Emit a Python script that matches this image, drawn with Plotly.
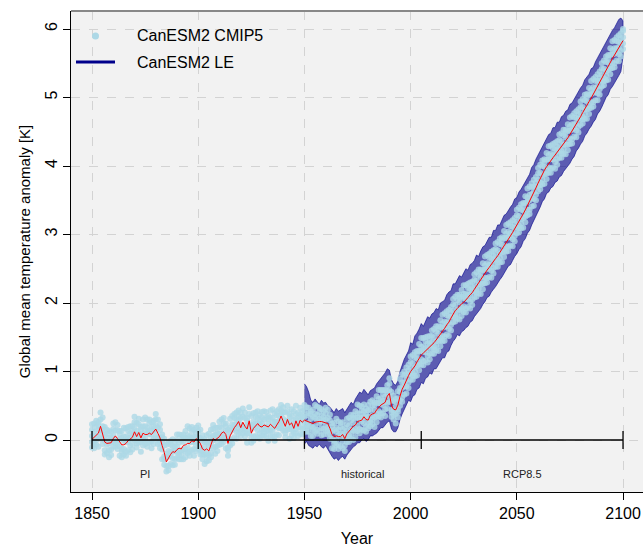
import plotly.graph_objects as go

years = list(range(1850, 2101))
le_years = list(range(1950, 2101))

# ensemble mean (red line)
ens_mean = [
    0.01, 0.04, 0.08, 0.10, 0.20, 0.08, -0.03, -0.05, -0.05, -0.04,
    0.02, 0.06, 0.02, -0.03, -0.07, -0.07, -0.05, -0.01, 0.02, 0.04,
    0.12, 0.05, 0.11, 0.03, 0.10, 0.08, 0.08, 0.10, 0.08, 0.12,
    0.16, 0.10, 0.03, -0.08, -0.18, -0.32, -0.26, -0.21, -0.17, -0.18,
    -0.14, -0.12, -0.13, -0.08, -0.07, -0.05, -0.05, -0.01, -0.03, 0.02,
    -0.01, -0.05, -0.13, -0.15, -0.13, -0.16, -0.07, 0.02, 0.00, 0.02,
    0.05, 0.10, 0.12, 0.08, -0.05, 0.06, 0.13, 0.18, 0.22, 0.27,
    0.18, 0.26, 0.20, 0.16, 0.28, 0.10, 0.17, 0.20, 0.24, 0.20,
    0.19, 0.22, 0.21, 0.19, 0.23, 0.20, 0.17, 0.22, 0.27, 0.35,
    0.26, 0.20, 0.30, 0.22, 0.25, 0.17, 0.28, 0.20, 0.29, 0.26,
    0.29, 0.28, 0.27, 0.26, 0.24, 0.26, 0.27, 0.27, 0.27, 0.26,
    0.25, 0.24, 0.17, 0.08, 0.05, 0.06, 0.05, 0.05, 0.08, 0.02,
    0.09, 0.13, 0.17, 0.20, 0.22, 0.27, 0.28, 0.29, 0.34, 0.30,
    0.29, 0.36, 0.38, 0.39, 0.44, 0.48, 0.51, 0.53, 0.55, 0.64,
    0.68, 0.50, 0.45, 0.44, 0.51, 0.64, 0.74, 0.80, 0.88, 0.94,
    1.00, 1.04, 1.08, 1.14, 1.20, 1.24, 1.27, 1.30, 1.33, 1.36,
    1.38, 1.42, 1.46, 1.50, 1.55, 1.58, 1.63, 1.68, 1.72, 1.78,
    1.84, 1.89, 1.92, 1.96, 1.99, 2.01, 2.04, 2.08, 2.12, 2.15,
    2.20, 2.25, 2.29, 2.33, 2.38, 2.43, 2.48, 2.52, 2.57, 2.61,
    2.65, 2.69, 2.74, 2.80, 2.85, 2.89, 2.94, 2.98, 3.03, 3.08,
    3.14, 3.19, 3.24, 3.30, 3.36, 3.42, 3.48, 3.55, 3.62, 3.68,
    3.75, 3.82, 3.88, 3.94, 3.99, 4.04, 4.08, 4.12, 4.16, 4.20,
    4.24, 4.28, 4.33, 4.37, 4.41, 4.46, 4.51, 4.57, 4.62, 4.67,
    4.72, 4.78, 4.84, 4.89, 4.94, 4.99, 5.05, 5.10, 5.16, 5.22,
    5.28, 5.34, 5.40, 5.46, 5.52, 5.57, 5.62, 5.68, 5.73, 5.78,
    5.83,
]

# CanESM2 large ensemble envelope (1950-2100)
le_upper = [
    0.82, 0.78, 0.70, 0.58, 0.55, 0.60, 0.56, 0.52, 0.58, 0.54,
    0.55, 0.50, 0.48, 0.44, 0.40, 0.46, 0.42, 0.44, 0.46, 0.40,
    0.46, 0.50, 0.55, 0.52, 0.60, 0.66, 0.70, 0.68, 0.74, 0.70,
    0.66, 0.72, 0.74, 0.76, 0.82, 0.86, 0.90, 0.95, 0.98, 1.04,
    1.02, 0.88, 0.82, 0.80, 0.86, 1.00, 1.10, 1.18, 1.24, 1.30,
    1.42, 1.40, 1.52, 1.56, 1.62, 1.70, 1.66, 1.72, 1.80, 1.78,
    1.84, 1.86, 1.92, 1.90, 2.00, 2.02, 2.04, 2.12, 2.16, 2.18,
    2.28, 2.28, 2.34, 2.40, 2.38, 2.44, 2.50, 2.48, 2.56, 2.58,
    2.62, 2.70, 2.68, 2.76, 2.82, 2.84, 2.90, 2.96, 2.96, 3.06,
    3.06, 3.14, 3.14, 3.22, 3.28, 3.30, 3.36, 3.40, 3.44, 3.52,
    3.54, 3.62, 3.66, 3.72, 3.78, 3.84, 3.88, 3.98, 4.02, 4.10,
    4.16, 4.22, 4.30, 4.34, 4.40, 4.46, 4.48, 4.56, 4.56, 4.64,
    4.64, 4.72, 4.74, 4.80, 4.82, 4.90, 4.92, 4.98, 5.04, 5.08,
    5.14, 5.18, 5.26, 5.30, 5.34, 5.42, 5.44, 5.52, 5.58, 5.62,
    5.70, 5.74, 5.82, 5.86, 5.92, 5.98, 6.02, 6.08, 6.14, 6.16,
    6.12,
]
le_lower = [
    -0.06, -0.02, -0.08, -0.10, -0.12, -0.08, -0.10, -0.06, -0.10, -0.12,
    -0.08, -0.12, -0.18, -0.24, -0.28, -0.26, -0.30, -0.26, -0.24, -0.28,
    -0.22, -0.18, -0.14, -0.10, -0.08, -0.04, -0.04, 0.00, 0.02, -0.02,
    0.00, 0.06, 0.06, 0.08, 0.10, 0.14, 0.18, 0.18, 0.22, 0.26,
    0.28, 0.16, 0.12, 0.12, 0.18, 0.30, 0.38, 0.44, 0.52, 0.58,
    0.56, 0.64, 0.66, 0.74, 0.76, 0.84, 0.82, 0.90, 0.92, 0.98,
    0.96, 1.04, 1.04, 1.10, 1.14, 1.20, 1.20, 1.28, 1.30, 1.38,
    1.44, 1.48, 1.54, 1.52, 1.58, 1.60, 1.64, 1.66, 1.72, 1.74,
    1.80, 1.84, 1.88, 1.92, 1.98, 2.02, 2.08, 2.10, 2.16, 2.20,
    2.24, 2.28, 2.34, 2.38, 2.44, 2.48, 2.54, 2.56, 2.62, 2.68,
    2.72, 2.78, 2.82, 2.90, 2.94, 3.02, 3.06, 3.14, 3.20, 3.28,
    3.34, 3.40, 3.48, 3.52, 3.60, 3.62, 3.68, 3.70, 3.76, 3.78,
    3.84, 3.86, 3.92, 3.96, 4.00, 4.04, 4.10, 4.14, 4.22, 4.26,
    4.32, 4.36, 4.44, 4.48, 4.54, 4.58, 4.64, 4.68, 4.76, 4.80,
    4.86, 4.92, 5.00, 5.04, 5.12, 5.16, 5.22, 5.26, 5.32, 5.38,
    5.60,
]

# CanESM2 CMIP5 members (1850-2100)
cmip5_m1 = [
    0.15, -0.02, 0.28, 0.15, 0.10, 0.20, 0.19, -0.07, 0.03, 0.12,
    0.16, 0.00, 0.22, 0.02, -0.17, 0.05, 0.17, -0.03, 0.10, 0.20,
    0.26, -0.01, 0.31, 0.08, 0.00, 0.20, 0.30, 0.08, 0.16, 0.28,
    0.30, 0.04, 0.23, -0.03, -0.28, -0.20, -0.04, -0.23, -0.09, -0.02,
    0.00, -0.18, 0.07, -0.03, -0.17, 0.07, 0.17, -0.03, 0.05, 0.18,
    0.13, -0.11, 0.07, -0.10, -0.23, -0.04, 0.15, 0.00, 0.08, 0.18,
    0.19, 0.04, 0.32, 0.13, -0.15, 0.18, 0.35, 0.16, 0.30, 0.43,
    0.32, 0.20, 0.40, 0.21, 0.18, 0.22, 0.39, 0.18, 0.32, 0.36,
    0.33, 0.16, 0.41, 0.24, 0.13, 0.32, 0.39, 0.20, 0.35, 0.51,
    0.40, 0.14, 0.50, 0.27, 0.15, 0.29, 0.50, 0.18, 0.37, 0.42,
    0.43, 0.22, 0.47, 0.31, 0.14, 0.38, 0.49, 0.25, 0.35, 0.42,
    0.39, 0.18, 0.37, 0.13, -0.05, 0.18, 0.27, 0.03, 0.16, 0.18,
    0.23, 0.07, 0.37, 0.25, 0.12, 0.39, 0.50, 0.27, 0.42, 0.46,
    0.43, 0.30, 0.58, 0.44, 0.34, 0.60, 0.73, 0.51, 0.63, 0.80,
    0.82, 0.44, 0.65, 0.49, 0.41, 0.76, 0.96, 0.78, 0.96, 1.10,
    1.14, 0.98, 1.28, 1.19, 1.10, 1.36, 1.49, 1.28, 1.41, 1.52,
    1.52, 1.36, 1.66, 1.55, 1.45, 1.70, 1.85, 1.66, 1.80, 1.94,
    1.98, 1.83, 2.12, 2.01, 1.89, 2.13, 2.26, 2.06, 2.20, 2.31,
    2.34, 2.19, 2.49, 2.38, 2.28, 2.55, 2.70, 2.50, 2.65, 2.77,
    2.79, 2.63, 2.94, 2.85, 2.75, 3.01, 3.16, 2.96, 3.11, 3.24,
    3.28, 3.13, 3.44, 3.35, 3.26, 3.54, 3.70, 3.53, 3.70, 3.84,
    3.89, 3.76, 4.08, 3.99, 3.89, 4.16, 4.30, 4.10, 4.24, 4.36,
    4.38, 4.22, 4.53, 4.42, 4.31, 4.58, 4.73, 4.55, 4.70, 4.83,
    4.86, 4.72, 5.04, 4.94, 4.84, 5.11, 5.27, 5.08, 5.24, 5.38,
    5.42, 5.28, 5.60, 5.51, 5.42, 5.69, 5.84, 5.66, 5.81, 5.94,
    5.97,
]
cmip5_m2 = [
    -0.11, 0.12, -0.07, -0.10, 0.30, 0.02, -0.21, 0.09, -0.15, -0.02,
    -0.10, 0.14, -0.13, -0.23, 0.03, -0.13, -0.23, 0.13, -0.08, 0.06,
    0.00, 0.13, -0.04, -0.17, 0.20, 0.02, -0.10, 0.24, -0.02, 0.14,
    0.04, 0.18, -0.12, -0.28, -0.08, -0.38, -0.44, -0.07, -0.27, -0.16,
    -0.26, -0.04, -0.28, -0.28, 0.03, -0.11, -0.23, 0.13, -0.13, 0.04,
    -0.13, 0.03, -0.28, -0.35, -0.03, -0.22, -0.25, 0.16, -0.10, 0.04,
    -0.07, 0.18, -0.03, -0.12, 0.05, 0.00, -0.05, 0.32, 0.12, 0.29,
    0.06, 0.34, 0.05, -0.04, 0.38, 0.04, -0.01, 0.34, 0.14, 0.22,
    0.07, 0.30, 0.06, -0.01, 0.33, 0.14, -0.01, 0.36, 0.17, 0.37,
    0.14, 0.28, 0.15, 0.02, 0.35, 0.11, 0.10, 0.34, 0.19, 0.28,
    0.17, 0.36, 0.12, 0.06, 0.34, 0.20, 0.09, 0.41, 0.17, 0.28,
    0.13, 0.32, 0.02, -0.12, 0.15, 0.00, -0.13, 0.19, -0.02, 0.04,
    -0.03, 0.21, 0.02, 0.00, 0.32, 0.21, 0.10, 0.43, 0.24, 0.32,
    0.17, 0.44, 0.23, 0.19, 0.54, 0.42, 0.33, 0.67, 0.45, 0.66,
    0.56, 0.58, 0.30, 0.24, 0.61, 0.58, 0.56, 0.94, 0.78, 0.96,
    0.88, 1.12, 0.93, 0.94, 1.30, 1.18, 1.09, 1.44, 1.23, 1.38,
    1.26, 1.50, 1.31, 1.30, 1.65, 1.52, 1.45, 1.82, 1.62, 1.80,
    1.72, 1.97, 1.77, 1.76, 2.09, 1.95, 1.86, 2.22, 2.02, 2.17,
    2.08, 2.33, 2.14, 2.13, 2.48, 2.37, 2.30, 2.66, 2.47, 2.63,
    2.53, 2.77, 2.59, 2.60, 2.95, 2.83, 2.76, 3.12, 2.93, 3.10,
    3.02, 3.27, 3.09, 3.10, 3.46, 3.36, 3.30, 3.69, 3.52, 3.70,
    3.63, 3.90, 3.73, 3.74, 4.09, 3.98, 3.90, 4.26, 4.06, 4.22,
    4.12, 4.36, 4.18, 4.17, 4.51, 4.40, 4.33, 4.71, 4.52, 4.69,
    4.60, 4.86, 4.69, 4.69, 5.04, 4.93, 4.87, 5.24, 5.06, 5.24,
    5.16, 5.42, 5.25, 5.26, 5.62, 5.51, 5.44, 5.82, 5.63, 5.80,
    5.71,
]
cmip5_m3 = [
    0.06, 0.24, 0.00, 0.22, 0.02, 0.33, -0.01, -0.19, 0.13, -0.14,
    0.07, 0.26, -0.06, 0.09, -0.25, 0.18, -0.03, -0.15, 0.20, -0.06,
    0.17, 0.25, 0.03, 0.15, -0.08, 0.33, 0.10, -0.04, 0.26, 0.02,
    0.21, 0.30, -0.05, 0.04, -0.36, -0.07, -0.24, -0.35, 0.01, -0.28,
    -0.09, 0.08, -0.21, 0.04, -0.25, 0.20, -0.03, -0.15, 0.15, -0.08,
    0.04, 0.15, -0.21, -0.03, -0.31, 0.09, -0.05, -0.12, 0.18, -0.08,
    0.10, 0.30, 0.04, 0.20, -0.23, 0.31, 0.15, 0.04, 0.40, 0.17,
    0.23, 0.46, 0.12, 0.28, 0.10, 0.35, 0.19, 0.06, 0.42, 0.10,
    0.24, 0.42, 0.13, 0.31, 0.05, 0.45, 0.19, 0.08, 0.45, 0.25,
    0.31, 0.40, 0.22, 0.34, 0.07, 0.42, 0.30, 0.06, 0.47, 0.16,
    0.34, 0.48, 0.19, 0.38, 0.06, 0.51, 0.29, 0.13, 0.45, 0.16,
    0.30, 0.44, 0.09, 0.20, -0.13, 0.31, 0.07, -0.09, 0.26, -0.08,
    0.14, 0.33, 0.09, 0.32, 0.04, 0.52, 0.30, 0.15, 0.52, 0.20,
    0.34, 0.56, 0.30, 0.51, 0.26, 0.73, 0.53, 0.39, 0.73, 0.54,
    0.73, 0.70, 0.37, 0.56, 0.33, 0.89, 0.76, 0.66, 1.06, 0.84,
    1.05, 1.24, 1.00, 1.26, 1.02, 1.49, 1.29, 1.16, 1.51, 1.26,
    1.43, 1.62, 1.38, 1.62, 1.37, 1.83, 1.65, 1.54, 1.90, 1.68,
    1.89, 2.09, 1.84, 2.08, 1.81, 2.26, 2.06, 1.94, 2.30, 2.05,
    2.25, 2.45, 2.21, 2.45, 2.20, 2.68, 2.50, 2.38, 2.75, 2.51,
    2.70, 2.89, 2.66, 2.92, 2.67, 3.14, 2.96, 2.84, 3.21, 2.98,
    3.19, 3.39, 3.16, 3.42, 3.18, 3.67, 3.50, 3.41, 3.80, 3.58,
    3.80, 4.02, 3.80, 4.06, 3.81, 4.29, 4.10, 3.98, 4.34, 4.10,
    4.29, 4.48, 4.25, 4.49, 4.23, 4.71, 4.53, 4.43, 4.80, 4.57,
    4.77, 4.98, 4.76, 5.01, 4.76, 5.24, 5.07, 4.96, 5.34, 5.12,
    5.33, 5.54, 5.32, 5.58, 5.34, 5.82, 5.64, 5.54, 5.91, 5.68,
    5.88,
]
cmip5_m4 = [
    -0.03, -0.12, 0.20, 0.04, 0.40, -0.06, 0.07, -0.01, -0.25, 0.04,
    -0.02, -0.10, 0.14, -0.09, 0.13, -0.21, 0.05, 0.03, -0.18, 0.12,
    0.08, -0.11, 0.23, -0.03, 0.30, -0.06, 0.18, 0.14, -0.12, 0.20,
    0.12, -0.06, 0.15, -0.14, 0.02, -0.46, -0.16, -0.17, -0.37, -0.10,
    -0.18, -0.28, -0.01, -0.14, 0.13, -0.19, 0.05, 0.03, -0.23, 0.10,
    -0.05, -0.21, -0.01, -0.21, 0.07, -0.30, 0.03, 0.06, -0.20, 0.10,
    0.01, -0.06, 0.24, 0.02, 0.15, -0.08, 0.23, 0.22, 0.02, 0.35,
    0.14, 0.10, 0.32, 0.10, 0.48, -0.04, 0.27, 0.24, 0.04, 0.28,
    0.15, 0.06, 0.33, 0.13, 0.43, 0.06, 0.27, 0.26, 0.07, 0.43,
    0.22, 0.04, 0.42, 0.16, 0.45, 0.03, 0.38, 0.24, 0.09, 0.34,
    0.25, 0.12, 0.39, 0.20, 0.44, 0.12, 0.37, 0.31, 0.07, 0.34,
    0.21, 0.08, 0.29, 0.02, 0.25, -0.08, 0.15, 0.09, -0.12, 0.10,
    0.05, -0.03, 0.29, 0.14, 0.42, 0.13, 0.38, 0.33, 0.14, 0.38,
    0.25, 0.20, 0.50, 0.33, 0.64, 0.34, 0.61, 0.57, 0.35, 0.72,
    0.64, 0.34, 0.57, 0.38, 0.71, 0.50, 0.84, 0.84, 0.68, 1.02,
    0.96, 0.88, 1.20, 1.08, 1.40, 1.10, 1.37, 1.34, 1.13, 1.44,
    1.34, 1.26, 1.58, 1.44, 1.75, 1.44, 1.73, 1.72, 1.52, 1.86,
    1.80, 1.73, 2.04, 1.90, 2.19, 1.87, 2.14, 2.12, 1.92, 2.23,
    2.16, 2.09, 2.41, 2.27, 2.58, 2.29, 2.58, 2.56, 2.37, 2.69,
    2.61, 2.53, 2.86, 2.74, 3.05, 2.75, 3.04, 3.02, 2.83, 3.16,
    3.10, 3.03, 3.36, 3.24, 3.56, 3.28, 3.58, 3.59, 3.42, 3.76,
    3.71, 3.66, 4.00, 3.88, 4.19, 3.90, 4.18, 4.16, 3.96, 4.28,
    4.20, 4.12, 4.45, 4.31, 4.61, 4.32, 4.61, 4.61, 4.42, 4.75,
    4.68, 4.62, 4.96, 4.83, 5.14, 4.85, 5.15, 5.14, 4.96, 5.30,
    5.24, 5.18, 5.52, 5.40, 5.72, 5.43, 5.72, 5.72, 5.53, 5.86,
    5.79,
]
cmip5_m5 = [
    0.23, -0.06, 0.06, 0.26, 0.14, 0.14, -0.15, 0.15, -0.05, -0.22,
    0.24, -0.04, 0.00, 0.13, -0.13, -0.01, -0.17, 0.19, 0.02, -0.14,
    0.34, -0.05, 0.09, 0.19, 0.04, 0.14, -0.04, 0.30, 0.08, -0.06,
    0.38, 0.00, 0.01, 0.08, -0.24, -0.26, -0.38, -0.01, -0.17, -0.36,
    0.08, -0.22, -0.15, 0.08, -0.13, 0.01, -0.17, 0.19, -0.03, -0.16,
    0.21, -0.15, -0.15, 0.01, -0.19, -0.10, -0.19, 0.22, 0.00, -0.16,
    0.27, 0.00, 0.10, 0.24, -0.11, 0.12, 0.01, 0.38, 0.22, 0.09,
    0.40, 0.16, 0.18, 0.32, 0.22, 0.16, 0.05, 0.40, 0.24, 0.02,
    0.41, 0.12, 0.19, 0.35, 0.17, 0.26, 0.05, 0.42, 0.27, 0.17,
    0.48, 0.10, 0.28, 0.38, 0.19, 0.23, 0.16, 0.40, 0.29, 0.08,
    0.51, 0.18, 0.25, 0.42, 0.18, 0.32, 0.15, 0.47, 0.27, 0.08,
    0.47, 0.14, 0.15, 0.24, -0.01, 0.12, -0.07, 0.25, 0.08, -0.16,
    0.31, 0.03, 0.15, 0.36, 0.16, 0.33, 0.16, 0.49, 0.34, 0.12,
    0.51, 0.26, 0.36, 0.55, 0.38, 0.54, 0.39, 0.73, 0.55, 0.46,
    0.90, 0.40, 0.43, 0.60, 0.45, 0.70, 0.62, 1.00, 0.88, 0.76,
    1.22, 0.94, 1.06, 1.30, 1.14, 1.30, 1.15, 1.50, 1.33, 1.18,
    1.60, 1.32, 1.44, 1.66, 1.49, 1.64, 1.51, 1.88, 1.72, 1.60,
    2.06, 1.79, 1.90, 2.12, 1.93, 2.07, 1.92, 2.28, 2.12, 1.97,
    2.42, 2.15, 2.27, 2.49, 2.32, 2.49, 2.36, 2.72, 2.57, 2.43,
    2.87, 2.59, 2.72, 2.96, 2.79, 2.95, 2.82, 3.18, 3.03, 2.90,
    3.36, 3.09, 3.22, 3.46, 3.30, 3.48, 3.36, 3.75, 3.62, 3.50,
    3.97, 3.72, 3.86, 4.10, 3.93, 4.10, 3.96, 4.32, 4.16, 4.02,
    4.46, 4.18, 4.31, 4.53, 4.35, 4.52, 4.39, 4.77, 4.62, 4.49,
    4.94, 4.68, 4.82, 5.05, 4.88, 5.05, 4.93, 5.30, 5.16, 5.04,
    5.50, 5.24, 5.38, 5.62, 5.46, 5.63, 5.50, 5.88, 5.73, 5.60,
    6.00,
]
cmip5_members = [cmip5_m1, cmip5_m2, cmip5_m3, cmip5_m4, cmip5_m5]

# period markers
period_breaks = [1850, 1900, 1950, 2005, 2100]
period_labels = ["PI", "historical", "RCP8.5"]
period_label_pos = [1875, 1977.5, 2052.5]

x_ticks = [1850, 1900, 1950, 2000, 2050, 2100]
y_ticks = [0, 1, 2, 3, 4, 5, 6]

FONT = "Liberation Sans, Arial, sans-serif"
LIGHTBLUE = "#ADD8E6"
NAVY = "#00008B"

fig = go.Figure()

# LE envelope
fig.add_trace(go.Scatter(
    x=le_years + le_years[::-1],
    y=le_upper + le_lower[::-1],
    fill="toself", fillcolor="rgba(0,0,139,0.62)",
    line=dict(color="rgba(0,0,139,0.6)", width=1),
    mode="lines", hoverinfo="skip", showlegend=False,
))

# CMIP5 dots
xs, ys = [], []
for m in cmip5_members:
    xs += years
    ys += m
fig.add_trace(go.Scatter(
    x=xs, y=ys, mode="markers",
    marker=dict(color=LIGHTBLUE, size=6, opacity=0.8, line=dict(width=0)),
    showlegend=False, hoverinfo="skip",
))

# ensemble mean
fig.add_trace(go.Scatter(
    x=years, y=ens_mean, mode="lines",
    line=dict(color="#FF0000", width=1), showlegend=False,
))

shapes = []
# period bar at 0
shapes.append(dict(type="line", xref="x", yref="y", x0=period_breaks[0], x1=period_breaks[-1],
                   y0=0, y1=0, line=dict(color="black", width=1.3), layer="above"))
for b in period_breaks:
    shapes.append(dict(type="line", xref="x", yref="y", x0=b, x1=b, y0=-0.13, y1=0.13,
                       line=dict(color="black", width=1.3), layer="above"))
# top border
shapes.append(dict(type="line", xref="paper", yref="paper", x0=0, x1=1, y0=1, y1=1,
                   line=dict(color="#888888", width=2)))

# manual legend (pixel-positioned via paper coords)
W, H = 643, 547
ml, mr, mt, mb = 71, 0, 11, 55
pw, ph = W - ml - mr, H - mt - mb
def px(xp):
    return (xp - ml) / pw
def py(yp):
    return 1 - (yp - mt) / ph
shapes.append(dict(type="circle", xref="paper", yref="paper",
                   x0=px(92), x1=px(99), y0=py(32.5), y1=py(39.5),
                   fillcolor=LIGHTBLUE, line=dict(width=0), layer="above"))
shapes.append(dict(type="line", xref="paper", yref="paper",
                   x0=px(76), x1=px(115), y0=py(62), y1=py(62),
                   line=dict(color=NAVY, width=3), layer="above"))

annotations = []
for txt, yy in [("CanESM2 CMIP5", 36), ("CanESM2 LE", 62)]:
    annotations.append(dict(text=txt, xref="paper", yref="paper", x=px(135), y=py(yy),
                            xanchor="left", yanchor="middle", showarrow=False,
                            font=dict(family=FONT, size=16, color="black")))
for lab, xp in zip(period_labels, period_label_pos):
    annotations.append(dict(text=lab, xref="x", yref="y", x=xp, y=-0.5,
                            xanchor="center", yanchor="middle", showarrow=False,
                            font=dict(family=FONT, size=11, color="#222222")))

fig.update_layout(
    width=W, height=H,
    margin=dict(l=ml, r=mr, t=mt, b=mb),
    paper_bgcolor="white", plot_bgcolor="#F2F2F2",
    font=dict(family=FONT, size=16, color="black"),
    shapes=shapes, annotations=annotations, showlegend=False,
)
fig.update_xaxes(
    range=[1840.1, 2109.4], tickvals=x_ticks, ticks="outside", ticklen=7,
    tickcolor="black", showline=True, linecolor="black", linewidth=1,
    showgrid=True, gridcolor="#D3D3D3", griddash="dash", gridwidth=1,
    zeroline=False, tickfont=dict(size=16),
    title=dict(text="Year", standoff=14, font=dict(size=16)),
)
fig.update_yaxes(
    range=[-0.759, 6.263], tickvals=y_ticks, ticks="outside", ticklen=7,
    tickcolor="black", showline=True, linecolor="black", linewidth=1,
    showgrid=True, gridcolor="#D3D3D3", griddash="dash", gridwidth=1,
    zeroline=False, tickangle=-90, tickfont=dict(size=16),
    title=dict(text="Global mean temperature anomaly [K]", standoff=8, font=dict(size=15)),
)

fig.write_html("out.html")
